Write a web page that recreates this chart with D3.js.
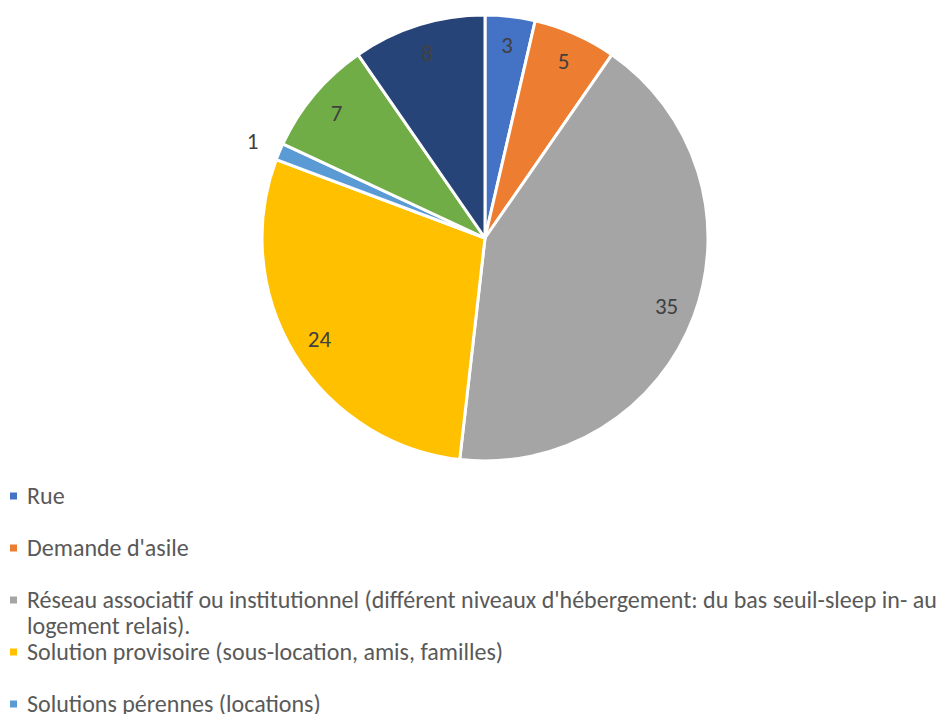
<!DOCTYPE html>
<html>
<head>
<meta charset="utf-8">
<script src="https://cdn.jsdelivr.net/npm/d3@7"></script>
<style>
  body { margin: 0; background: #fff; overflow: hidden; }
  svg text { font-family: Carlito, Calibri, "Open Sans", sans-serif; fill: #595959; }
</style>
</head>
<body>
<div id="chart"></div>
<script>
// categories and values, clockwise from 12 o'clock
var categories = [
    "Rue",
    "Demande d'asile",
    "Réseau associatif ou institutionnel (différent niveaux d'hébergement: du bas seuil-sleep in- au logement relais).",
    "Solution provisoire (sous-location, amis, familles)",
    "Solutions pérennes (locations)",
    "Autres",
    "Non renseigné"
];
var values = [3, 5, 35, 24, 1, 7, 8];
var colors = ["#4472C4", "#ED7D31", "#A5A5A5", "#FFC000", "#5B9BD5", "#70AD47", "#264478"];

var width = 943, height = 714;
var cx = 485, cy = 238, radius = 223;

var svg = d3.select("#chart").append("svg")
    .attr("width", width)
    .attr("height", height);

var data = categories.map(function(c, i){
    return {name: c, value: values[i], color: colors[i]};
});

var pie = d3.pie().sort(null).value(function(d){ return d.value; });
var arcs = pie(data);

var arc = d3.arc().innerRadius(0).outerRadius(radius);
var labelArc = d3.arc().innerRadius(radius * 0.87).outerRadius(radius * 0.87);
var outerArc = d3.arc().innerRadius(radius * 1.13).outerRadius(radius * 1.13);

var g = svg.append("g").attr("transform", "translate(" + cx + "," + cy + ")");

g.selectAll("path")
    .data(arcs)
    .enter().append("path")
    .attr("d", arc)
    .attr("fill", function(d){ return d.data.color; })
    .attr("stroke", "#fff")
    .attr("stroke-width", 3)
    .attr("stroke-linejoin", "round");

// data labels: inside, except the tiny slice which sits outside
g.selectAll("text.lbl")
    .data(arcs)
    .enter().append("text")
    .attr("class", "lbl")
    .attr("transform", function(d){
        var p = d.data.value < 2 ? outerArc.centroid(d) : labelArc.centroid(d);
        return "translate(" + p + ")";
    })
    .attr("text-anchor", "middle")
    .attr("dy", "0.35em")
    .style("font-size", "23px")
    .style("fill", "#404040")
    .text(function(d){ return d.data.value; });

// legend
var legend = svg.append("g").attr("transform", "translate(10,0)");
var maxW = 920;
var y = 496;
data.forEach(function(d){
    var item = legend.append("g");
    item.append("rect")
        .attr("x", 0).attr("y", y - 3.5)
        .attr("width", 7).attr("height", 7)
        .attr("fill", d.color);
    var t = item.append("text")
        .attr("x", 17).attr("y", y)
        .attr("dy", "0.35em")
        .style("font-size", "24px");
    // simple word wrap
    var words = d.name.split(" "), line = [];
    var ts = t.append("tspan").attr("x", 17);
    words.forEach(function(w){
        line.push(w);
        ts.text(line.join(" "));
        if (ts.node().getComputedTextLength() > maxW && line.length > 1) {
            line.pop();
            ts.text(line.join(" "));
            line = [w];
            ts = t.append("tspan").attr("x", 17).attr("dy", 26).text(w);
        }
    });
    y += 52;
});
</script>
</body>
</html>
